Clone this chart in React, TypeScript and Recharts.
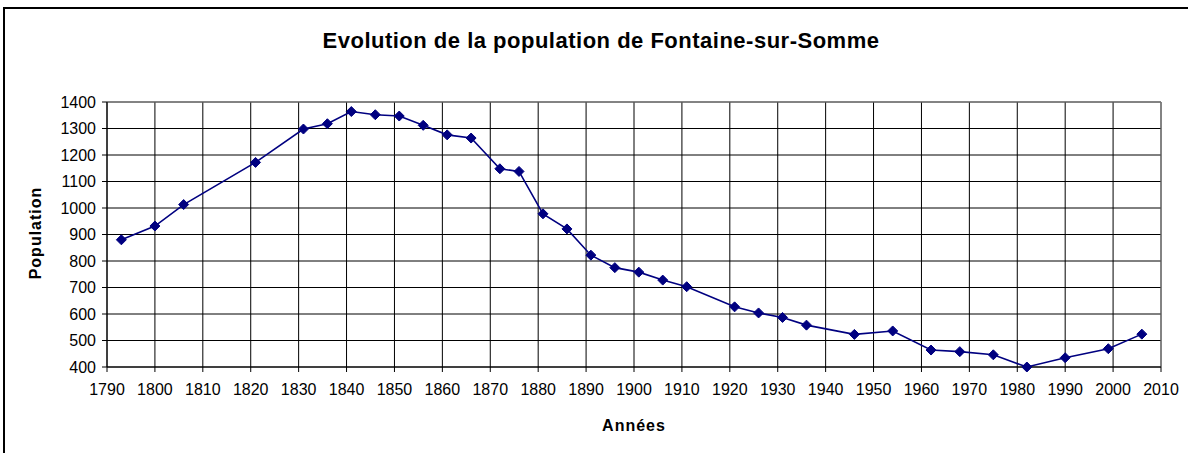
import React from "react";
import { LineChart, Line, XAxis, YAxis, CartesianGrid, ReferenceLine } from "recharts";

const title = "Evolution de la population de Fontaine-sur-Somme";
const xLabel = "Années";
const yLabel = "Population";

const years = [1793, 1800, 1806, 1821, 1831, 1836, 1841, 1846, 1851, 1856, 1861, 1866, 1872, 1876, 1881, 1886, 1891, 1896, 1901, 1906, 1911, 1921, 1926, 1931, 1936, 1946, 1954, 1962, 1968, 1975, 1982, 1990, 1999, 2006];
const population = [880, 932, 1013, 1172, 1298, 1318, 1364, 1352, 1347, 1312, 1276, 1264, 1148, 1138, 978, 921, 822, 775, 758, 728, 703, 627, 604, 587, 558, 523, 536, 464, 458, 446, 400, 435, 469, 524];

const xTicks = [1790, 1800, 1810, 1820, 1830, 1840, 1850, 1860, 1870, 1880, 1890, 1900, 1910, 1920, 1930, 1940, 1950, 1960, 1970, 1980, 1990, 2000, 2010];
const yTicks = [400, 500, 600, 700, 800, 900, 1000, 1100, 1200, 1300, 1400];

const data = years.map((y, i) => ({ year: y, pop: population[i] }));

const FONT = '"Liberation Sans", Arial, sans-serif';
const NAVY = "#000080";

const Diamond = (props: any) => {
  const { cx, cy } = props;
  if (cx == null || cy == null) return null;
  const r = 5;
  return (
    <polygon
      points={`${cx},${cy - r} ${cx + r},${cy} ${cx},${cy + r} ${cx - r},${cy}`}
      fill={NAVY}
      stroke={NAVY}
      strokeWidth={1}
    />
  );
};

export default function App() {
  return (
    <div
      style={{
        position: "fixed",
        left: 0,
        top: 0,
        width: 1188,
        height: 453,
        overflow: "hidden",
        background: "#fff",
        fontFamily: FONT,
      }}
    >
      <div
        style={{
          position: "absolute",
          left: 3,
          top: 7,
          width: 1220,
          height: 480,
          border: "2px solid #000",
        }}
      />
      <div
        style={{
          position: "absolute",
          left: 0,
          top: 0,
          width: 1188,
          height: 453,
        }}
      >
        <LineChart
          width={1188}
          height={453}
          data={data}
          margin={{ top: 102, right: 27, bottom: 56, left: 47 }}
        >
          <CartesianGrid stroke="#000" strokeWidth={1} />
          <XAxis
            dataKey="year"
            type="number"
            domain={[1790, 2010]}
            ticks={xTicks}
            interval={0}
            height={30}
            tickSize={5}
            tickMargin={12}
            stroke="#000"
            tick={{ fill: "#000", fontSize: 16, fontFamily: FONT }}
            axisLine={{ stroke: "#000" }}
            tickLine={{ stroke: "#000" }}
          />
          <YAxis
            type="number"
            domain={[400, 1400]}
            ticks={yTicks}
            interval={0}
            width={60}
            tickSize={5}
            tickMargin={6}
            stroke="#000"
            tick={{ fill: "#000", fontSize: 16, fontFamily: FONT }}
            axisLine={{ stroke: "#000" }}
            tickLine={{ stroke: "#000" }}
          />
          <ReferenceLine y={1400} stroke="#888" strokeWidth={1} />
          <ReferenceLine x={2010} stroke="#888" strokeWidth={1} />
          <Line
            type="linear"
            dataKey="pop"
            stroke={NAVY}
            strokeWidth={1.6}
            dot={<Diamond />}
            activeDot={false}
            isAnimationActive={false}
          />
        </LineChart>
      </div>
      <div
        style={{
          position: "absolute",
          left: 0,
          width: 1202,
          top: 29,
          textAlign: "center",
          fontWeight: "bold",
          fontSize: 22,
          lineHeight: "24px",
          letterSpacing: 0.5,
          color: "#000",
          whiteSpace: "nowrap",
        }}
      >
        {title}
      </div>
      <div
        style={{
          position: "absolute",
          left: 434,
          width: 400,
          top: 416,
          textAlign: "center",
          fontWeight: "bold",
          fontSize: 16,
          lineHeight: "20px",
          color: "#000",
          letterSpacing: 1,
        }}
      >
        {xLabel}
      </div>
      <div
        style={{
          position: "absolute",
          left: 36 - 100,
          top: 233 - 10,
          width: 200,
          height: 20,
          lineHeight: "20px",
          textAlign: "center",
          fontWeight: "bold",
          fontSize: 16,
          color: "#000",
          letterSpacing: 1,
          transform: "rotate(-90deg)",
          transformOrigin: "100px 10px",
        }}
      >
        {yLabel}
      </div>
    </div>
  );
}
